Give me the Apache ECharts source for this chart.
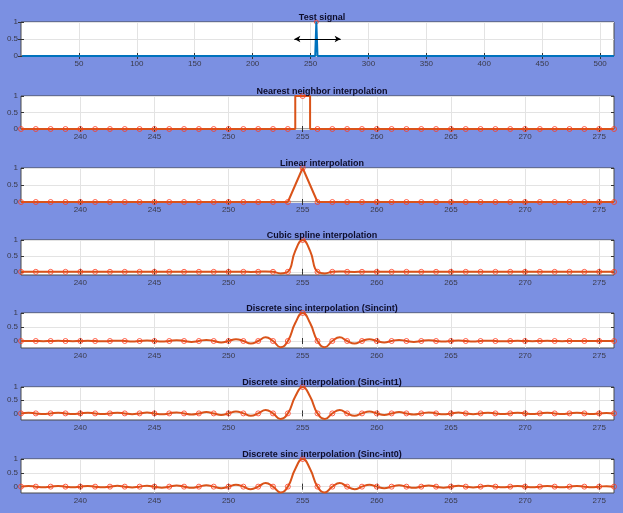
<!DOCTYPE html>
<html>
<head>
<meta charset="utf-8">
<title>Interpolation of a unit impulse</title>
<script src="https://cdn.jsdelivr.net/npm/echarts@6/dist/echarts.min.js"></script>
<style>
  html, body { margin: 0; padding: 0; background: #7b90e2; }
  #chart { width: 623px; height: 513px; }
</style>
</head>
<body>
<div id="chart"></div>
<script>
// panel titles, top to bottom
const titles = [
  'Test signal',
  'Nearest neighbor interpolation',
  'Linear interpolation',
  'Cubic spline interpolation',
  'Discrete sinc interpolation (Sincint)',
  'Discrete sinc interpolation (Sinc-int1)',
  'Discrete sinc interpolation (Sinc-int0)'
]

// test signal: zero everywhere, impulse at 255
const testX = [1, 254, 255, 256, 512]
const testY = [0, 0, 1, 0, 0]
const testRange = [0, 512]
const arrowX = [236, 276]
const arrowY = 0.5

// zoomed panels
const zoomRange = [236, 276]
const sampleX = [236, 237, 238, 239, 240, 241, 242, 243, 244, 245, 246, 247, 248, 249, 250,
  251, 252, 253, 254, 255, 256, 257, 258, 259, 260, 261, 262, 263, 264, 265, 266, 267, 268,
  269, 270, 271, 272, 273, 274, 275, 276]
const sampleY = [0, 0, 0, 0, 0, 0, 0, 0, 0, 0, 0, 0, 0, 0, 0,
  0, 0, 0, 0, 1, 0, 0, 0, 0, 0, 0, 0, 0, 0, 0, 0, 0, 0,
  0, 0, 0, 0, 0, 0, 0, 0]

const nearestX = [236, 254.5, 254.5, 255.5, 255.5, 276]
const nearestY = [0, 0, 1, 1, 0, 0]
const linearX = [236, 254, 255, 256, 276]
const linearY = [0, 0, 1, 0, 0]

// curve value half a sample away from the peak, 1.5 away, 2.5 away ...
const peakX = 255
const cubicLobes = [0.66, -0.05, 0.012, -0.003, 0, 0, 0, 0, 0, 0, 0, 0, 0, 0, 0, 0, 0, 0, 0, 0, 0]
const sincintLobes = [0.64, -0.22, 0.13, -0.09, 0.065, -0.05, 0.04, -0.032, 0.026, -0.021,
  0.017, -0.014, 0.012, -0.01, 0.008, -0.007, 0.006, -0.005, 0.004, -0.003, 0.003]
const sinc1Lobes = [0.64, -0.21, 0.13, -0.09, 0.07, -0.058, 0.05, -0.043, 0.038, -0.035,
  0.032, -0.03, 0.028, -0.026, 0.024, -0.023, 0.022, -0.021, 0.02, -0.019, 0.018]
const sinc0Lobes = [0.64, -0.21, 0.13, -0.09, 0.07, -0.058, 0.05, -0.044, 0.039, -0.036,
  0.033, -0.03, 0.028, -0.026, 0.025, -0.023, 0.022, -0.021, 0.02, -0.019, 0.018]

// tick labels
const xTicksTest = [50, 100, 150, 200, 250, 300, 350, 400, 450, 500]
const xTicksZoom = [240, 245, 250, 255, 260, 265, 270, 275]
const yTicks = [0, 0.5, 1]
const yMins = [0, 0, 0, -0.1, -0.25, -0.25, -0.23]

// layout of the seven axes boxes
const gridTops = [22, 96, 168, 240, 313, 387, 459]
const gridHeights = [34, 33, 34, 35, 35, 33, 34]

const blue = '#0072bd'
const orange = '#d95319'
const markerRed = '#ff3b1f'
const font = 'Liberation Sans, Arial, sans-serif'

function pairs(xs, ys) {
  return xs.map((x, i) => [x, ys[i]])
}

// samples on integers, lobe extremes on the half samples
function lobeCurve(lobes) {
  const pts = []
  for (let h = zoomRange[0] * 2; h <= zoomRange[1] * 2; h++) {
    const x = h / 2
    if (h % 2 === 0) {
      pts.push([x, x === peakX ? 1 : 0])
    } else {
      pts.push([x, lobes[Math.floor(Math.abs(x - peakX))]])
    }
  }
  return pts
}

const curves = [
  null,
  { data: pairs(nearestX, nearestY), smooth: false },
  { data: pairs(linearX, linearY), smooth: false },
  { data: lobeCurve(cubicLobes), smooth: 0.5 },
  { data: lobeCurve(sincintLobes), smooth: 0.5 },
  { data: lobeCurve(sinc1Lobes), smooth: 0.5 },
  { data: lobeCurve(sinc0Lobes), smooth: 0.5 }
]

const grid = [], xAxis = [], yAxis = [], title = [], series = []

titles.forEach((t, i) => {
  grid.push({
    left: 21, right: 9, top: gridTops[i], height: gridHeights[i],
    show: true, backgroundColor: '#ffffff', borderColor: '#4a4a4a', borderWidth: 1
  })
  title.push({
    text: t, left: 317, top: gridTops[i] - 14, textAlign: 'center',
    textStyle: { fontFamily: font, fontSize: 9, fontWeight: 'bold', color: '#0d0d2a' }
  })
  const range = i === 0 ? testRange : zoomRange
  const xt = i === 0 ? xTicksTest : xTicksZoom
  xAxis.push({
    type: 'value', gridIndex: i, min: range[0], max: range[1], position: 'bottom',
    axisLine: { show: false },
    axisTick: { show: true, inside: true, length: 3, customValues: xt, lineStyle: { color: '#333' } },
    axisLabel: { customValues: xt, fontFamily: font, fontSize: 8, color: '#3a3a4a', margin: 4 },
    splitLine: { show: true, lineStyle: { color: '#e3e3e3', width: 1 } }
  })
  xAxis.push({
    type: 'value', gridIndex: i, min: range[0], max: range[1], position: 'top',
    axisLine: { show: false },
    axisTick: { show: true, inside: true, length: 3, customValues: xt, lineStyle: { color: '#333' } },
    axisLabel: { show: false },
    splitLine: { show: false }
  })
  yAxis.push({
    type: 'value', gridIndex: i, min: yMins[i], max: 1, position: 'left',
    axisLine: { show: false },
    axisTick: { show: true, inside: true, length: 3, customValues: yTicks, lineStyle: { color: '#333' } },
    axisLabel: { customValues: yTicks, fontFamily: font, fontSize: 8, color: '#3a3a4a', margin: 3 },
    splitLine: { show: true, lineStyle: { color: '#e3e3e3', width: 1 } }
  })
  yAxis.push({
    type: 'value', gridIndex: i, min: yMins[i], max: 1, position: 'right',
    axisLine: { show: false },
    axisTick: { show: true, inside: true, length: 3, customValues: yTicks, lineStyle: { color: '#333' } },
    axisLabel: { show: false },
    splitLine: { show: false }
  })

  const xi = i * 2, yi = i * 2
  if (i === 0) {
    series.push({
      type: 'line', xAxisIndex: xi, yAxisIndex: yi, data: pairs(testX, testY),
      showSymbol: false, clip: false, lineStyle: { color: blue, width: 2 },
      markLine: {
        silent: true, symbol: ['arrow', 'arrow'], symbolSize: [5, 6],
        label: { show: false },
        lineStyle: { color: '#000', width: 1.2, type: 'solid' },
        data: [[{ coord: [arrowX[0], arrowY] }, { coord: [arrowX[1], arrowY] }]]
      }
    })
    series.push({
      type: 'scatter', xAxisIndex: xi, yAxisIndex: yi, data: [[peakX, 1]],
      symbol: 'circle', symbolSize: 4, clip: false,
      itemStyle: { color: 'rgba(0,0,0,0)', borderColor: markerRed, borderWidth: 1 }
    })
  } else {
    series.push({
      type: 'line', xAxisIndex: xi, yAxisIndex: yi, data: curves[i].data,
      smooth: curves[i].smooth, showSymbol: false, clip: false,
      lineStyle: { color: orange, width: 2 }
    })
    series.push({
      type: 'scatter', xAxisIndex: xi, yAxisIndex: yi, data: pairs(sampleX, sampleY),
      symbol: 'circle', symbolSize: 5, clip: false, z: 3,
      itemStyle: { color: 'rgba(0,0,0,0)', borderColor: markerRed, borderWidth: 1 }
    })
  }
})

const chart = echarts.init(document.getElementById('chart'))
chart.setOption({
  backgroundColor: '#7b90e2',
  animation: false,
  title, grid, xAxis, yAxis, series
})
window.onresize = chart.resize
</script>
</body>
</html>
